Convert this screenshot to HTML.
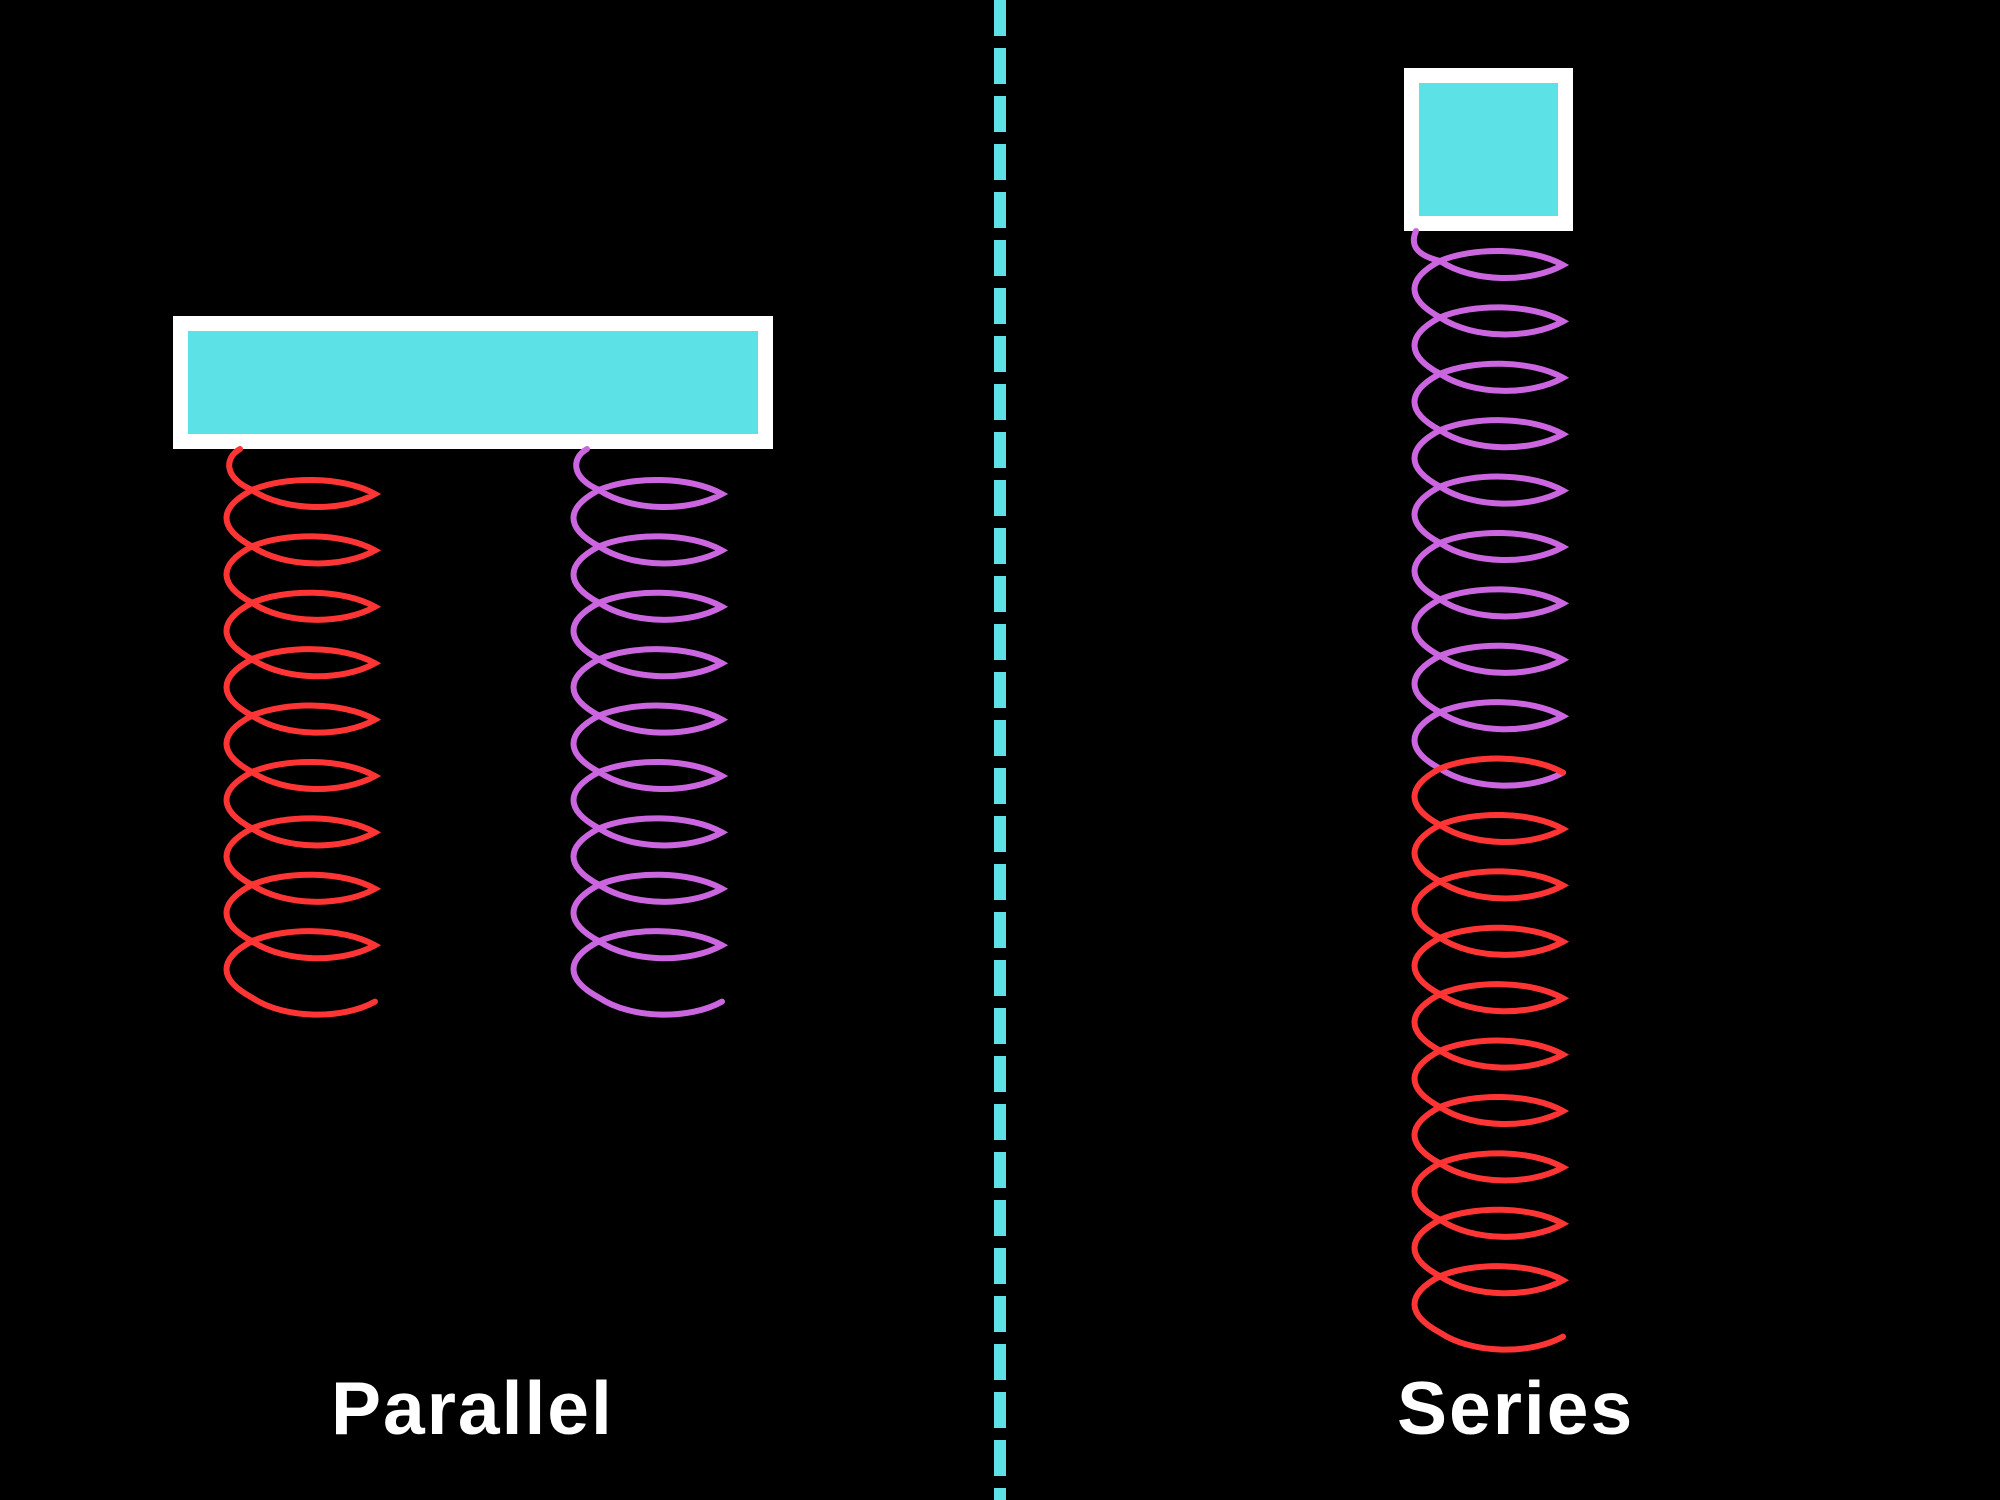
<!DOCTYPE html>
<html><head><meta charset="utf-8"><style>
html,body{margin:0;padding:0;background:#000;}
body{width:2000px;height:1500px;overflow:hidden;position:relative;}
.lbl{position:absolute;font-family:"Liberation Sans",sans-serif;font-weight:bold;color:#fff;font-size:75px;letter-spacing:2px;line-height:1;}
</style></head><body>
<svg id="s" width="2000" height="1500" style="position:absolute;left:0;top:0">
<line x1="1000" y1="0" x2="1000" y2="1500" stroke="#5ce1e6" stroke-width="12" stroke-dasharray="36 12"/>
<rect x="180.5" y="323.5" width="585" height="118" fill="#5ce1e6" stroke="#fff" stroke-width="15"/>
<rect x="1411.5" y="75.5" width="154" height="148" fill="#5ce1e6" stroke="#fff" stroke-width="15"/>
<g id="springs" fill="none" stroke-width="6" stroke-linecap="round"></g>
</svg>
<div class="lbl" style="left:331px;top:1371px;">Parallel</div>
<div class="lbl" style="left:1397px;top:1371px;">Series</div>
<script>
var P=56.4;
function A(x,yc){return " C "+(x+33)+" "+(yc+22)+" "+(x+91)+" "+(yc+22)+" "+(x+123)+" "+(yc+4);}
function B(x,yc){return " C "+(x+91)+" "+(yc-14)+" "+(x+33)+" "+(yc-14)+" "+x+" "+yc;}
function C(x,yc){return " C "+(x-34)+" "+(yc+18)+" "+(x-34)+" "+(yc+38)+" "+x+" "+(yc+P);}
function spring(x,yc,start,n){
  var d=start;
  for(var i=0;i<n;i++){d+=A(x,yc)+B(x,yc)+C(x,yc);yc+=P;}
  d+=A(x,yc);return d;
}
var g=document.getElementById('springs'),ns="http://www.w3.org/2000/svg";
function add(d,c){var p=document.createElementNS(ns,'path');p.setAttribute('d',d);p.setAttribute('stroke',c);g.appendChild(p);}
var red="#ff3535",pur="#cc66e0";
add(spring(252,490,"M 240 449 C 224 458 224 478 252 490",9),red);
add(spring(599,490,"M 587 449 C 571 458 571 478 599 490",9),pur);
add(spring(1440,261,"M 1416 231 C 1410 245 1416 255 1440 261",9),pur);
var yt=265+P*9;
var yc=yt-4;
var d="M 1563 "+yt+B(1440,yc)+C(1440,yc);
add(spring(1440,yc+P,d,9),red);
</script>
</body></html>
